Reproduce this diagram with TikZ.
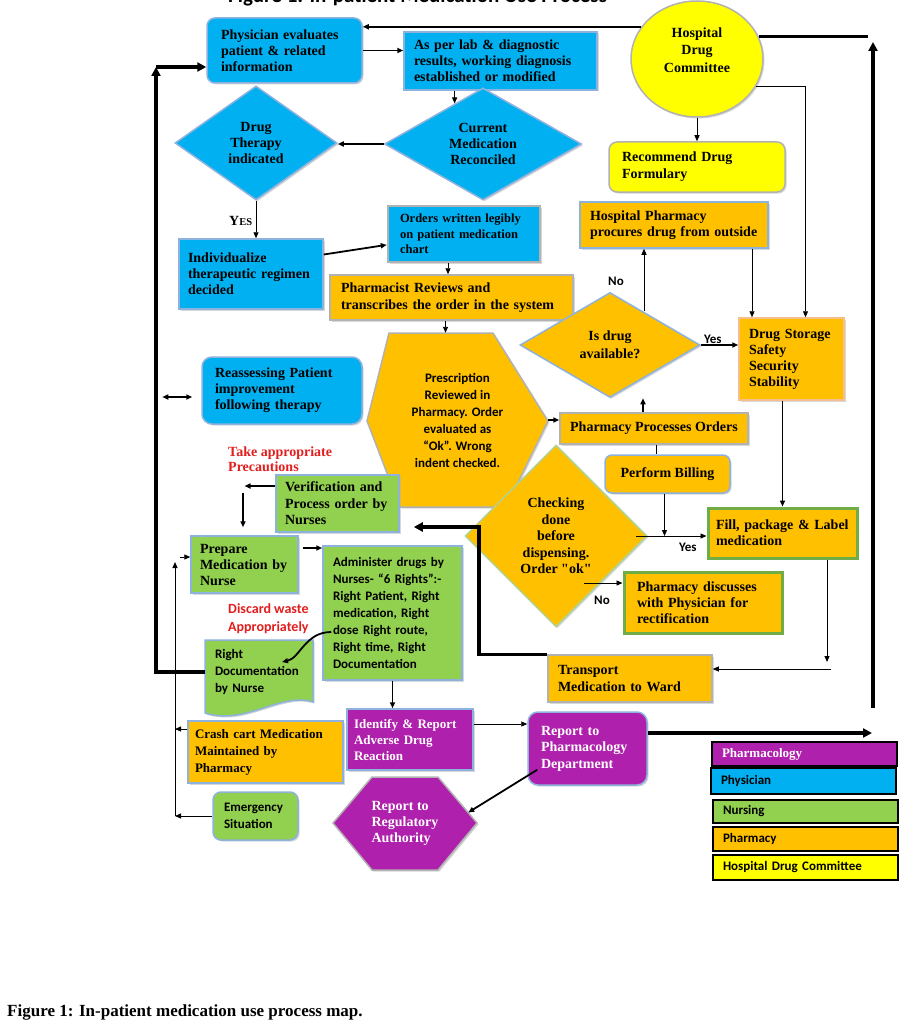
\documentclass[tikz,border=0pt]{standalone}
\usepackage{fontspec}
\setmainfont{Liberation Serif}
\setsansfont{Carlito}
\usetikzlibrary{
  arrows.meta,
  calc,
  shapes.geometric,
  shadows,
}
\definecolor{bluef}{RGB}{0,176,240}
\definecolor{orangef}{RGB}{255,192,0}
\definecolor{greenf}{RGB}{146,208,80}
\definecolor{yellowf}{RGB}{255,255,0}
\definecolor{purplef}{RGB}{175,32,172}
\definecolor{edgec}{RGB}{141,178,222}
\definecolor{grayedge}{RGB}{178,178,178}
\definecolor{greenedge}{RGB}{112,173,71}
\definecolor{storeedge}{RGB}{245,190,140}
\definecolor{redtxt}{RGB}{226,30,30}
\hyphenpenalty=10000
\exhyphenpenalty=10000

\begin{document}
\begin{tikzpicture}[
  x=1pt, y=-1pt,
  >={Triangle[length=6pt,width=5pt]},
  txt/.style={font=\bfseries\fontsize{14}{16}\selectfont},
  sans/.style={font=\sffamily\bfseries\fontsize{13}{17}\selectfont},
  dropsh/.style={drop shadow={shadow xshift=1.5pt,shadow yshift=-1.5pt,fill=black!30}},
  box/.style={
     rectangle,
     draw=edgec,
     line width=1.5pt,
     inner xsep=10pt,
     inner ysep=2pt,
     align=left,
     txt,
     dropsh,
  },
  dia/.style={diamond, draw=edgec, line width=1.5pt, inner sep=0pt, align=center, txt, dropsh},
  keybox/.style={
     rectangle,
     draw=black,
     line width=1.2pt,
     inner xsep=10pt,
     inner ysep=0pt,
     text width=165pt,
     align=left,
     sans,
  },
  lbl/.style={inner sep=0pt},
  ln1/.style={line width=0.9pt},
  ln2/.style={line width=1.8pt},
  fat/.style={line width=3.5pt, >={Triangle[length=9pt,width=9pt]}},
]
\useasboundingbox (0,0) rectangle (912,1027);
\fill[white] (0,0) rectangle (912,1027);

\node[lbl, anchor=base west, font=\sffamily\bfseries\fontsize{21}{24}\selectfont] (Title) at (228,3) {Figure 1: In-patient Medication Use Process};

\node[box, fill=bluef, rounded corners=8pt, minimum height=65pt, inner xsep=14pt, text width=127pt] (Phys) at (284.5,50.5) {Physician evaluates\\patient \& related\\information};
\node[box, fill=bluef, minimum height=58pt, text width=173pt] (Lab) at (500.5,61) {As per lab \& diagnostic\\results, working diagnosis\\established or modified};
\node[dia, fill=bluef, minimum width=162pt, minimum height=114pt, aspect=1.42] (DT) at (256,143) {Drug\\Therapy\\indicated};
\node[dia, fill=bluef, minimum width=197pt, minimum height=112pt, aspect=1.76] (CM) at (483,144) {Current\\Medication\\Reconciled};
\node[box, fill=bluef, minimum height=70pt, inner xsep=9pt, text width=126pt] (Indiv) at (251,274) {Individualize\\therapeutic regimen\\decided};
\node[box, fill=bluef, draw=grayedge, line width=2.5pt, minimum height=56pt, inner xsep=12pt, text width=128pt, font=\bfseries\fontsize{12.5}{15.5}\selectfont] (Orders) at (464,234) {Orders written legibly\\on patient medication\\chart};
\node[box, fill=orangef, draw=grayedge, minimum height=45pt, inner xsep=11pt, text width=221pt, font=\bfseries\fontsize{14}{17}\selectfont] (Rev) at (451.5,297.5) {Pharmacist Reviews and\\transcribes the order in the system};
\node[box, fill=bluef, rounded corners=10pt, minimum height=67pt, inner xsep=13pt, text width=134pt] (Reass) at (282,390.5) {Reassessing Patient\\improvement\\following therapy};

\filldraw[fill=orangef, draw=grayedge, line width=1.5pt, dropsh] (389,333) -- (493,333) -- (548,421) -- (506,507) -- (400,507) -- (367,421) -- cycle;
\node[sans, align=center, minimum width=181pt, minimum height=174pt, inner sep=0pt] (Presc) at (457.5,420) {Prescription\\Reviewed in\\Pharmacy. Order\\evaluated as\\“Ok”. Wrong\\indent checked.};

\node[ellipse, draw=grayedge, line width=1.5pt, fill=yellowf, minimum width=132pt, minimum height=116pt, dropsh,
  label={[txt, align=center, yshift=9pt, font=\bfseries\fontsize{14}{17.5}\selectfont]center:{Hospital\\Drug\\Committee}}] (HDC) at (697,59) {};
\node[box, fill=yellowf, draw=grayedge, rounded corners=8pt, minimum height=50pt, inner xsep=13pt, text width=150pt, font=\bfseries\fontsize{14}{17}\selectfont] (Form) at (697,167) {Recommend Drug\\Formulary};
\node[box, fill=orangef, draw=edgec, minimum height=46pt, text width=168pt] (Proc) at (674,225) {Hospital Pharmacy\\procures drug from outside};
\node[dia, fill=orangef, minimum width=180pt, minimum height=105pt, aspect=1.71, font=\bfseries\fontsize{14}{18}\selectfont] (Avail) at (610,345) {Is drug\\available?};
\node[box, fill=orangef, draw=storeedge, minimum height=82pt, text width=85pt] (Store) at (791.5,359) {Drug Storage\\Safety\\Security\\Stability};
\node[box, fill=orangef, draw=grayedge, minimum width=188pt, minimum height=31pt] (PPO) at (654,428.5) {Pharmacy Processes Orders};
\node[box, fill=orangef, rounded corners=7pt, minimum width=125pt, minimum height=38pt] (Bill) at (667.5,474) {Perform Billing};
\node[box, fill=orangef, draw=greenedge, line width=3pt, minimum height=50pt, inner xsep=8pt, text width=133pt] (Fill) at (782.5,533) {Fill, package \& Label\\medication};
\node[dia, fill=orangef, draw=greenedge!55, minimum width=182pt, minimum height=182pt, font=\bfseries\fontsize{14}{16.5}\selectfont] (Check) at (556,536) {Checking\\done\\before\\dispensing.\\Order {\addfontfeatures{Ligatures=TeXOff}"ok"}};
\node[box, fill=orangef, draw=greenedge, line width=3pt, minimum height=61pt, inner xsep=13pt, text width=132pt] (Disc) at (703,602.5) {Pharmacy discusses\\with Physician for\\rectification};
\node[box, fill=orangef, draw=grayedge, minimum height=47pt, text width=144pt, font=\bfseries\fontsize{14}{17}\selectfont] (Trans) at (630,678.5) {Transport\\Medication to Ward};

\node[box, fill=greenf, minimum height=57pt, inner xsep=9pt, text width=105pt, font=\bfseries\fontsize{14}{16.5}\selectfont] (Verif) at (337.5,503.5) {Verification and\\Process order by\\Nurses};
\node[box, fill=greenf, minimum height=57pt, inner xsep=9pt, text width=89pt] (Prep) at (244.5,564.5) {Prepare\\Medication by\\Nurse};
\node[box, fill=greenf, sans, minimum height=134pt, text width=119pt] (Admin) at (392.5,613) {Administer drugs by\\Nurses- “6 Rights”:-\\Right Patient, Right\\medication, Right\\dose Right route,\\Right time, Right\\Documentation};

\filldraw[fill=greenf, draw=edgec, line width=1.5pt, dropsh] (205,640) -- (313,640) -- (313,702) .. controls (280,692) and (245,726) .. (205,713) -- cycle;
\node[sans, align=left, minimum height=64pt, inner xsep=10pt, inner ysep=0pt, text width=88pt] (Rdoc) at (259,672) {Right\\Documentation\\by Nurse};

\node[box, fill=orangef, minimum height=62pt, inner xsep=7pt, text width=141pt, font=\bfseries\fontsize{13}{17}\selectfont] (Crash) at (265.5,752) {Crash cart Medication\\Maintained by\\Pharmacy};
\node[box, fill=greenf, sans, rounded corners=8pt, minimum height=48pt, inner xsep=11pt, text width=63pt] (Emerg) at (255.5,816) {Emergency\\Situation};
\node[box, fill=purplef, text=white, minimum height=61pt, inner xsep=7pt, text width=112pt, font=\bfseries\fontsize{13}{16}\selectfont] (Ident) at (410,739.5) {Identify \& Report\\Adverse Drug\\Reaction};
\node[box, fill=purplef, text=white, rounded corners=10pt, minimum height=73pt, inner xsep=13pt, text width=93pt, font=\bfseries\fontsize{14}{16.5}\selectfont] (RepPh) at (587.5,748.5) {Report to\\Pharmacology\\Department};

\filldraw[fill=purplef, draw=grayedge, line width=1.5pt, dropsh] (372,777) -- (438,777) -- (477,823) -- (438,870) -- (372,870) -- (333,823) -- cycle;
\node[txt, text=white, align=left, minimum width=144pt, minimum height=93pt, inner sep=0pt] (RegA) at (405,823.5) {Report to\\Regulatory\\Authority};

\node[keybox, fill=purplef, text=white, font=\bfseries\fontsize{13}{15}\selectfont, minimum height=24pt] (K1) at (804.5,754) {Pharmacology};
\node[keybox, fill=bluef, minimum height=26pt] (K2) at (803.5,781) {Physician};
\node[keybox, fill=greenf, minimum height=23pt] (K3) at (805.5,811.5) {Nursing};
\node[keybox, fill=orangef, minimum height=24pt] (K4) at (805.5,839) {Pharmacy};
\node[keybox, fill=yellowf, minimum height=25pt] (K5) at (805.5,867.5) {Hospital Drug Committee};

\node[lbl, txt, anchor=base west] (YesA) at (229,225) {Y\fontsize{10.5}{12}\selectfont ES};
\node[lbl, sans, anchor=base west] (NoA) at (608,285) {No};
\node[lbl, sans, anchor=base west] (YesB) at (704,343) {Yes};
\node[lbl, sans, anchor=base west] (YesC) at (679,551) {Yes};
\node[lbl, sans, anchor=base west] (NoB) at (594,604) {No};
\node[lbl, txt, text=redtxt, align=left, anchor=west, font=\bfseries\fontsize{14}{15}\selectfont] (Prec) at (228,459) {Take appropriate\\Precautions};
\node[lbl, sans, text=redtxt, align=left, anchor=west, font=\sffamily\bfseries\fontsize{14}{18}\selectfont] (Waste) at (228,619) {Discard waste\\Appropriately};
\node[lbl, anchor=west, font=\bfseries\fontsize{17}{19}\selectfont] (Cap) at (7,1012) {Figure 1: In-patient medication use process map.};

\coordinate (TV) at (479,527);
\coordinate (LP) at (156,67);
\coordinate (LT) at (175,562);
\coordinate (FT) at (827,662);
\coordinate (FT2) at (831,669);
\coordinate (RE) at (872,733);
\coordinate (RB) at (873,708);
\coordinate (RT) at (873,42);
\coordinate (RH) at (868,36);

\draw[ln2,->] (HDC.150) -- (HDC.150 -| Phys.east);
\draw[ln2,->] (Phys.east) -- (Phys.east -| Lab.west);
\draw[ln1,->] (Lab.south -| CM.125) -- (CM.125);
\draw[ln2,->] (CM.west) -- (CM.west -| DT.east);
\draw[ln1,->] (DT.south) -- (DT.south |- Indiv.north);
\draw[ln2,->] (Indiv.15) -- (Orders.188);
\draw[ln1,->] ($(Orders.south)+(-16,0)$) -- ($(Orders.south |- Rev.north)+(-16,0)$);
\draw[ln1,->] ($(Rev.south)+(-6,0)$) -- ($(Rev.south |- Presc.north)+(-6,0)$);
\draw[ln2,->] (Presc.east) -- (Presc.east -| PPO.west);
\draw[ln2,->] ($(PPO.north)+(-11,0)$) -- ($(PPO.north |- Avail.south)+(-11,0)$);
\draw[ln2,->] (Avail.east) -- (Avail.east -| Store.west);
\draw[ln1,->] ($(Proc.south |- Avail.45)+(-30,0)$) -- ($(Proc.south)+(-30,0)$);
\draw[ln1,->] ($(Proc.south)+(78,0)$) -- ($(Proc.south |- Store.north)+(78,0)$);
\draw[ln1,->] (HDC.south) -- (Form.north);
\draw[ln1,->] (HDC.-25) -| ($(Store.north)+(14,0)$);
\draw[ln2,->] (Store.south -| Fill.north) -- (Fill.north);
\draw[ln1] ($(PPO.south)+(2,0)$) -- ($(PPO.south |- Bill.north)+(2,0)$);
\draw[ln1,->] ($(Bill.south)+(-3,0)$) -- ($(Bill.south |- Check.east)+(-3,0)$);
\draw[ln1,->] ($(Check.east)+(-12,0)$) -- (Check.east -| Fill.west);
\draw[ln1,->] ($(Check)+(28,47)$) -- ($(Disc.west)+(0,-19.5)$);
\draw[ln1,->] (Fill.south -| FT) -- (FT);
\draw[ln1,->] (FT2) -- (FT2 -| Trans.east);
\draw[fat,->] (Trans.north west) -| (TV) -- ($(TV -| Verif.east)+(14,0)$);
\draw[ln2,->] ($(Verif.west)+(0,-17.5)$) -- ($(Verif.west -| Prep.north)+(0,-17.5)$);
\draw[ln2,->] ($(Verif.west -| Prep.north)+(-1.5,-11)$) -- ($(Prep.north)+(-1.5,-8)$);
\draw[ln2,->] ($(Prep.east)+(4,-16.5)$) -- ($(Prep.east -| Admin.west)+(0,-16.5)$);
\draw[ln2,->] ($(Admin.west)+(9,19)$) .. controls +(-26,0) and +(18,-4) .. ($(Rdoc)+(23,-10)$);
\draw[fat,->] (Rdoc.west) -| (LP);
\draw[fat,->] (LP) -- (LP -| Phys.west);
\draw[ln1,->] (Emerg.west -| LT) -- (LT);
\draw[ln1,->] (Emerg.west) -- (Emerg.west -| LT);
\draw[ln1,->] ($(Crash.west)+(0,-23)$) -- ($(Crash.west -| LT)+(0,-23)$);
\draw[ln1,->] ($(LT)+(5,-5)$) -- ($(LT -| Prep.west)+(0,-5)$);
\draw[ln2,<->] ($(Reass.west)+(-39,6.5)$) -- ($(Reass.west)+(-9,6.5)$);
\draw[ln2,->] (Admin.south) -- (Admin.south |- Ident.north);
\draw[ln1,->] ($(Ident.east)+(0,-15.5)$) -- ($(Ident.east -| RepPh.west)+(0,-15.5)$);
\draw[ln2,->] ($(RepPh.south west)+(10,-16)$) -- ($(RegA.east)+(-9,-11)$);
\draw[fat,->] (RepPh.east |- RE) -- (RE);
\draw[fat,->] (RB) -- (RT);
\draw[fat] (HDC.20) -- (HDC.20 -| RH);
\end{tikzpicture}
\end{document}
